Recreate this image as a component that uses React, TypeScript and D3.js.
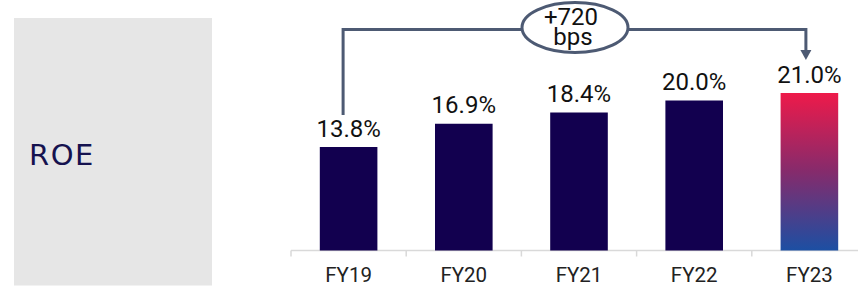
import React from "react";
import * as d3 from "d3";

const categories = ["FY19", "FY20", "FY21", "FY22", "FY23"];
const roeValues = [13.8, 16.9, 18.4, 20.0, 21.0];
const valueLabels = ["13.8%", "16.9%", "18.4%", "20.0%", "21.0%"];
const panelTitle = "ROE";
const changeLines = ["+720", "bps"];

const W = 858;
const H = 292;

export default function App() {
  const x = d3
    .scaleBand<string>()
    .domain(categories)
    .range([291, 867])
    .paddingInner(0.5)
    .paddingOuter(0.25);
  const y = d3.scaleLinear().domain([0, 21]).range([250.5, 93]);
  const step = x.step();
  const bw = x.bandwidth();
  const baseY = y(0);
  const font = "Roboto, 'Open Sans', sans-serif";
  const lineColor = "#4d5a73";

  const first = categories[0];
  const last = categories[categories.length - 1];
  const xl = (x(first) as number) + bw / 2 - 5.5;
  const xr = (x(last) as number) + bw / 2 - 3.5;
  const topY = 29.5;
  const arrowTip = y(roeValues[roeValues.length - 1]) - 33;
  const leftBottom = y(roeValues[0]) - 32;
  const ex = 575;
  const ey = 27.5;

  const ticks = categories.map((c) => (x(c) as number) - step * 0.25);

  return (
    <svg
      width={W}
      height={H}
      style={{ position: "absolute", left: 0, top: 0 }}
      fontFamily={font}
    >
      <defs>
        <linearGradient id="fy23grad" x1="0" y1="0" x2="0" y2="1">
          <stop offset="0%" stopColor="#ee1a4a" />
          <stop offset="50%" stopColor="#852b6c" />
          <stop offset="100%" stopColor="#1c4fa3" />
        </linearGradient>
      </defs>
      <rect x={14} y={18} width={198} height={267.5} fill="#e6e6e6" />
      <text
        x={29}
        y={164.5}
        fontSize={29}
        fill="#15124f"
        fontFamily="'DejaVu Sans', sans-serif"
        letterSpacing={1.5}
      >
        {panelTitle}
      </text>

      {/* axis */}
      <line x1={291} x2={W} y1={baseY} y2={baseY} stroke="#d9d9d9" strokeWidth={1.5} />
      {ticks.map((t, i) => (
        <line key={i} x1={t} x2={t} y1={baseY} y2={baseY + 6} stroke="#d9d9d9" strokeWidth={1.5} />
      ))}

      {categories.map((c, i) => {
        const bx = x(c) as number;
        const top = y(roeValues[i]);
        const isLast = i === categories.length - 1;
        return (
          <g key={c}>
            <rect
              x={bx}
              y={top}
              width={bw}
              height={baseY - top}
              fill={isLast ? "url(#fy23grad)" : "#12004f"}
            />
            <text
              x={bx + bw / 2}
              y={top - 10.5}
              textAnchor="middle"
              fontSize={24}
              fill="#111111"
            >
              {valueLabels[i]}
            </text>
            <text
              x={bx + bw / 2}
              y={282}
              textAnchor="middle"
              fontSize={20.5}
              fill="#222222"
            >
              {c}
            </text>
          </g>
        );
      })}

      {/* bracket */}
      <path
        d={`M${xl},${leftBottom} V${topY} H${xr} V${arrowTip - 9}`}
        fill="none"
        stroke={lineColor}
        strokeWidth={3}
      />
      <path
        d={`M${xr - 5.5},${arrowTip - 10} L${xr + 5.5},${arrowTip - 10} L${xr},${arrowTip} Z`}
        fill={lineColor}
      />
      <ellipse cx={ex} cy={ey} rx={53} ry={25} fill="#ffffff" stroke={lineColor} strokeWidth={3} />
      <text x={ex - 4} y={24.5} textAnchor="middle" fontSize={24} fill="#111111">
        {changeLines[0]}
      </text>
      <text x={ex - 2} y={45} textAnchor="middle" fontSize={24} fill="#111111">
        {changeLines[1]}
      </text>
    </svg>
  );
}
